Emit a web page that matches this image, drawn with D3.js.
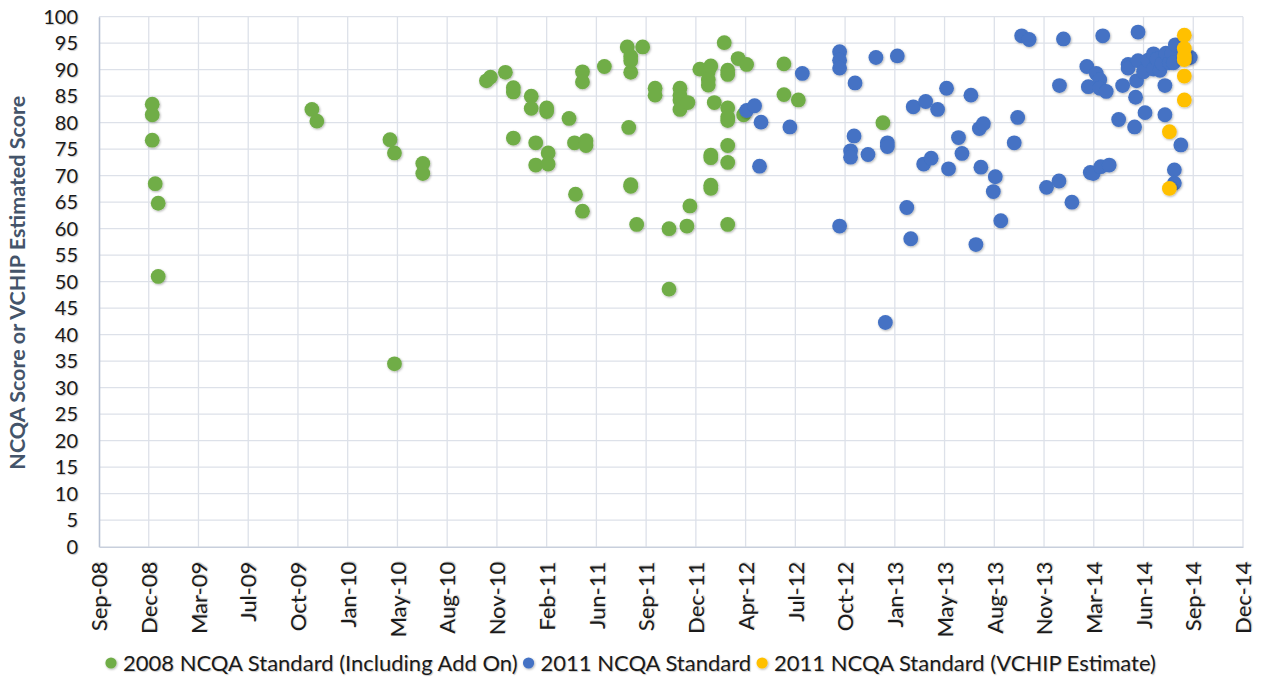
<!DOCTYPE html>
<html>
<head>
<meta charset="utf-8">
<script src="https://cdn.jsdelivr.net/npm/d3@7"></script>
<style>
  html, body { margin: 0; padding: 0; background: #fff; }
  svg { display: block; }
  .tick text, .legend text { text-shadow: 1px 1px 1px rgba(0,0,0,0.22); }
</style>
</head>
<body>
<svg id="chart" width="1262" height="679"></svg>
<script>
// ---- Data ----
const seriesNames = ["2008 NCQA Standard (Including Add On)", "2011 NCQA Standard", "2011 NCQA Standard (VCHIP Estimate)"];
const seriesColors = ["#70AD47", "#4472C4", "#FFC000"];

// [date, score]
const ncqa2008 = [
  ["2008-12-26", 83.5], ["2008-12-26", 81.5], ["2008-12-26", 76.7],
  ["2009-01-01", 68.5], ["2009-01-07", 64.8], ["2009-01-07", 51.0],
  ["2009-11-12", 82.5], ["2009-11-22", 80.3],
  ["2010-04-18", 76.8], ["2010-04-27", 74.3], ["2010-04-27", 34.5],
  ["2010-06-23", 72.3], ["2010-06-23", 70.4],
  ["2010-10-29", 87.9], ["2010-11-06", 88.6], ["2010-12-06", 89.5],
  ["2010-12-22", 86.6], ["2010-12-22", 85.8], ["2010-12-22", 77.1],
  ["2011-01-27", 85.0], ["2011-01-27", 82.7], ["2011-02-05", 76.2], ["2011-02-05", 72.0],
  ["2011-02-27", 82.8], ["2011-02-27", 82.1], ["2011-03-02", 74.3], ["2011-03-02", 72.2],
  ["2011-04-13", 80.8], ["2011-04-24", 76.2], ["2011-04-26", 66.5],
  ["2011-05-10", 89.6], ["2011-05-10", 87.7], ["2011-05-10", 63.3],
  ["2011-05-17", 76.6], ["2011-05-17", 75.7], ["2011-06-23", 90.6],
  ["2011-08-08", 94.3], ["2011-08-11", 79.1],
  ["2011-08-15", 92.5], ["2011-08-15", 91.7], ["2011-08-15", 89.5], ["2011-08-15", 68.3], ["2011-08-15", 68.0],
  ["2011-08-27", 60.8], ["2011-09-08", 94.3],
  ["2011-10-03", 86.5], ["2011-10-03", 85.2], ["2011-10-31", 60.0], ["2011-10-31", 48.6],
  ["2011-11-22", 86.5], ["2011-11-22", 85.2], ["2011-11-22", 84.3], ["2011-11-22", 82.5],
  ["2011-12-06", 60.5], ["2011-12-08", 83.8], ["2011-12-12", 64.3],
  ["2012-01-01", 90.1], ["2012-01-18", 89.6], ["2012-01-18", 88.1], ["2012-01-18", 87.1],
  ["2012-01-23", 90.7], ["2012-01-23", 73.9], ["2012-01-23", 73.4], ["2012-01-23", 68.2], ["2012-01-23", 67.6],
  ["2012-01-30", 83.8], ["2012-02-19", 95.1],
  ["2012-02-26", 89.9], ["2012-02-26", 89.1], ["2012-02-26", 82.8], ["2012-02-26", 81.1],
  ["2012-02-26", 80.4], ["2012-02-26", 75.7], ["2012-02-26", 72.5], ["2012-02-26", 60.8],
  ["2012-03-18", 92.1], ["2012-03-29", 81.5], ["2012-04-04", 91.0],
  ["2012-06-18", 91.1], ["2012-06-18", 85.3], ["2012-07-17", 84.3], ["2013-01-03", 80.0]
];

const ncqa2011 = [
  ["2012-04-04", 82.3], ["2012-04-20", 83.2], ["2012-04-30", 71.8], ["2012-05-03", 80.1],
  ["2012-06-30", 79.2], ["2012-07-25", 89.3],
  ["2012-10-08", 93.4], ["2012-10-08", 91.8], ["2012-10-08", 90.3], ["2012-10-08", 60.5],
  ["2012-10-30", 74.7], ["2012-10-30", 73.5], ["2012-11-06", 77.5], ["2012-11-08", 87.5],
  ["2012-12-04", 74.0], ["2012-12-20", 92.3], ["2013-01-08", 42.3],
  ["2013-01-12", 76.2], ["2013-01-12", 75.5], ["2013-02-01", 92.6],
  ["2013-02-20", 64.0], ["2013-02-28", 58.1], ["2013-03-05", 83.0], ["2013-03-26", 72.2],
  ["2013-03-30", 84.0], ["2013-04-10", 73.3], ["2013-04-23", 82.5], ["2013-05-11", 86.5],
  ["2013-05-15", 71.3], ["2013-06-04", 77.2], ["2013-06-11", 74.2], ["2013-06-29", 85.2],
  ["2013-07-09", 57.0], ["2013-07-16", 78.9], ["2013-07-19", 71.6], ["2013-07-24", 79.8],
  ["2013-08-13", 67.0], ["2013-08-17", 69.8], ["2013-08-28", 61.5], ["2013-09-24", 76.2],
  ["2013-10-01", 81.0], ["2013-10-09", 96.4], ["2013-10-24", 95.7], ["2013-11-28", 67.8],
  ["2013-12-23", 69.0], ["2013-12-24", 87.0], ["2014-01-01", 95.8], ["2014-01-18", 65.0],
  ["2014-02-17", 90.6], ["2014-02-20", 86.8], ["2014-02-24", 70.6], ["2014-03-02", 70.4],
  ["2014-03-08", 89.3], ["2014-03-15", 88.1], ["2014-03-15", 86.5], ["2014-03-17", 71.7],
  ["2014-03-21", 96.4], ["2014-03-28", 85.9], ["2014-04-03", 72.0], ["2014-04-22", 80.6],
  ["2014-04-30", 87.0], ["2014-05-11", 91.0], ["2014-05-11", 90.3], ["2014-05-24", 79.2],
  ["2014-05-26", 84.8], ["2014-05-28", 87.9], ["2014-05-31", 97.1], ["2014-05-31", 91.7],
  ["2014-06-11", 89.6], ["2014-06-14", 81.9], ["2014-06-20", 91.8], ["2014-07-01", 93.0],
  ["2014-07-01", 90.1], ["2014-07-08", 92.0], ["2014-07-14", 89.9], ["2014-07-18", 91.2],
  ["2014-07-24", 87.0], ["2014-07-24", 81.5], ["2014-07-26", 93.1], ["2014-08-02", 91.3],
  ["2014-08-07", 93.1], ["2014-08-10", 91.3], ["2014-08-12", 71.1], ["2014-08-12", 68.6],
  ["2014-08-14", 94.7], ["2014-08-25", 75.8], ["2014-09-13", 92.3]
];

const vchipEstimate = [
  ["2014-09-01", 96.5], ["2014-09-01", 94.0], ["2014-09-01", 92.6], ["2014-09-01", 91.9],
  ["2014-09-01", 88.8], ["2014-09-01", 84.3], ["2014-08-02", 78.3], ["2014-08-02", 67.6]
];

const xTickLabels = ["Sep-08","Dec-08","Mar-09","Jul-09","Oct-09","Jan-10","May-10","Aug-10",
  "Nov-10","Feb-11","Jun-11","Sep-11","Dec-11","Apr-12","Jul-12","Oct-12","Jan-13","May-13",
  "Aug-13","Nov-13","Mar-14","Jun-14","Sep-14","Dec-14"];
const yTickValues = d3.range(0, 101, 5);
const yAxisTitle = "NCQA Score or VCHIP Estimated Score";

// ---- Layout ----
const svg = d3.select("#chart");
const M = { left: 99, right: 1243, top: 16.7, bottom: 546.7 };
const FONT = "Lato, 'Open Sans', sans-serif";
const parse = d3.timeParse("%Y-%m-%d");
const xStart = parse("2008-09-10");
const tickDates = xTickLabels.map((_, i) => d3.timeDay.offset(xStart, 100 * i));

const x = d3.scaleTime().domain([xStart, tickDates[tickDates.length - 1]]).range([M.left, M.right]);
const y = d3.scaleLinear().domain([0, 100]).range([M.bottom, M.top]);

// gridlines
const grid = svg.append("g");
grid.selectAll("line.h").data(yTickValues.filter(v => v > 0)).join("line")
  .attr("x1", M.left).attr("x2", M.right)
  .attr("y1", d => y(d)).attr("y2", d => y(d))
  .attr("stroke", "#dde1e9").attr("stroke-width", 1.3);
grid.selectAll("line.v").data(tickDates.slice(1)).join("line")
  .attr("x1", d => x(d)).attr("x2", d => x(d))
  .attr("y1", M.top).attr("y2", M.bottom)
  .attr("stroke", "#dde1e9").attr("stroke-width", 1.3);

// Y axis
const yAxis = svg.append("g").attr("transform", `translate(${M.left},0)`)
  .call(d3.axisLeft(y).tickValues(yTickValues).tickSize(0).tickPadding(21));
yAxis.select(".domain").attr("stroke", "#b8c2d4").attr("stroke-width", 1.6);
yAxis.selectAll("text").attr("font-family", FONT).attr("font-size", 20).attr("fill", "#1a1a1a");

// X axis
const xAxis = svg.append("g").attr("transform", `translate(0,${M.bottom})`)
  .call(d3.axisBottom(x).tickValues(tickDates).tickSize(0)
    .tickFormat((d, i) => xTickLabels[i]));
xAxis.select(".domain").attr("stroke", "#c8cfdc").attr("stroke-width", 1.6);
xAxis.selectAll("text")
  .attr("font-family", FONT).attr("font-size", 22).attr("fill", "#1a1a1a")
  .attr("text-anchor", "end")
  .attr("transform", "rotate(-90)")
  .attr("x", -15).attr("y", 0).attr("dy", "0.35em");

// Y title
svg.append("text")
  .attr("transform", `translate(25,${(M.top + M.bottom) / 2 + 1}) rotate(-90)`)
  .attr("text-anchor", "middle")
  .attr("font-family", FONT).attr("font-weight", "bold").attr("font-size", 21.5)
  .attr("fill", "#44546A")
  .text(yAxisTitle);

// shadow filter for markers
const defs = svg.append("defs");
const f = defs.append("filter").attr("id", "sh").attr("x", "-50%").attr("y", "-50%").attr("width", "200%").attr("height", "200%");
f.append("feDropShadow").attr("dx", 0.8).attr("dy", 1).attr("stdDeviation", 0.9).attr("flood-color", "#000").attr("flood-opacity", 0.3);

// points
const allSeries = [ncqa2008, ncqa2011, vchipEstimate];
allSeries.forEach((data, si) => {
  svg.append("g").attr("filter", "url(#sh)")
    .selectAll("circle").data(data).join("circle")
    .attr("cx", d => x(parse(d[0])))
    .attr("cy", d => y(d[1]))
    .attr("r", 7.4)
    .attr("fill", seriesColors[si]);
});

// legend (laid out sequentially)
const lg = svg.append("g").attr("class", "legend");
let cursor = 111;
seriesNames.forEach((name, i) => {
  const g = lg.append("g");
  g.append("circle").attr("cx", cursor).attr("cy", 663).attr("r", 5.6)
    .attr("fill", seriesColors[i]).attr("filter", "url(#sh)");
  const t = g.append("text").attr("x", cursor + 12).attr("y", 663).attr("dy", "0.35em")
    .attr("font-family", FONT).attr("font-size", 22).attr("fill", "#1a1a1a").text(name);
  const w = t.node().getComputedTextLength();
  cursor = cursor + 12 + w + 11;
});
</script>
</body>
</html>
